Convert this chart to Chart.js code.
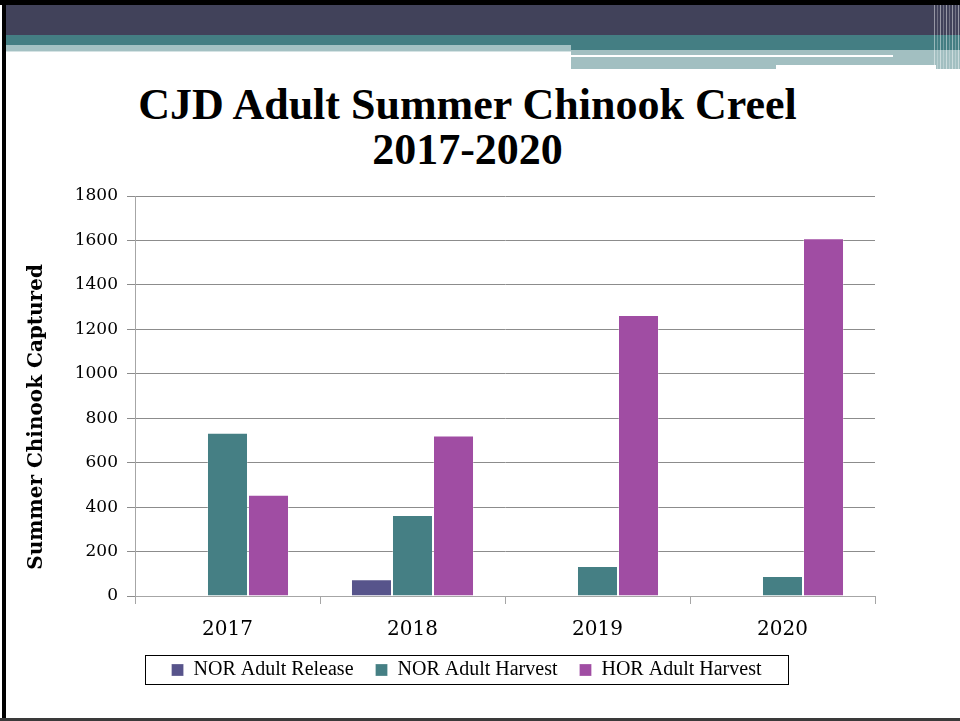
<!DOCTYPE html>
<html>
<head>
<meta charset="utf-8">
<script src="https://cdn.jsdelivr.net/npm/chart.js@4.4.1/dist/chart.umd.min.js"></script>
<style>
  html, body { margin: 0; padding: 0; background: #fff; }
  body { width: 960px; height: 721px; position: relative; overflow: hidden; }
  .b { position: absolute; }
  #title {
    position: absolute; left: 0; top: 82px; width: 935px;
    text-align: center; color: #000;
    font: bold 44px 'Liberation Serif', serif; line-height: 45px;
  }
  #wrap { position: absolute; left: 0; top: 170px; width: 960px; height: 545px; }
</style>
</head>
<body>
<!-- slide frame and header bands -->
<div class="b" style="left:0;top:0;width:960px;height:5px;background:#000"></div>
<div class="b" style="left:2px;top:0;width:4px;height:721px;background:#000"></div>
<div class="b" style="left:0;top:718px;width:960px;height:3px;background:#3a3a3a"></div>
<div class="b" style="left:6px;top:5px;width:954px;height:30px;background:#41425a"></div>
<div class="b" style="left:6px;top:35px;width:954px;height:10px;background:#447e83"></div>
<div class="b" style="left:6px;top:45px;width:565px;height:6px;background:#a4c1c3"></div>
<div class="b" style="left:6px;top:51px;width:565px;height:1px;background:#d5e3e4"></div>
<div class="b" style="left:571px;top:45px;width:389px;height:5px;background:#447e83"></div>
<div class="b" style="left:571px;top:50px;width:389px;height:19px;background:#a2bfc1"></div>
<div class="b" style="left:571px;top:55px;width:322px;height:2px;background:#fff"></div>
<div class="b" style="left:776px;top:65px;width:160px;height:4px;background:#fff"></div>
<div class="b" style="left:934px;top:5px;width:26px;height:64px;background:repeating-linear-gradient(90deg, rgba(255,255,255,0.45) 0 1px, rgba(255,255,255,0) 1px 3px, rgba(255,255,255,0.25) 3px 4px, rgba(255,255,255,0) 4px 6px)"></div>

<div id="title">CJD Adult Summer Chinook Creel<br>2017-2020</div>

<div id="wrap"><canvas id="chart"></canvas></div>

<script>
const years = ['2017', '2018', '2019', '2020'];
const seriesNames = ['NOR Adult Release', 'NOR Adult Harvest', 'HOR Adult Harvest'];
const norRelease = [0, 75, 0, 0];
const norHarvest = [735, 364, 135, 90];
const horHarvest = [456, 722, 1265, 1610];
const seriesColors = ['#57548b', '#457f84', '#a04da3'];
const yMax = 1800;
const yStep = 200;

// draws the thin black frame round the legend items
const legendFrame = {
  id: 'legendFrame',
  afterDraw(chart) {
    const boxes = chart.legend && chart.legend.legendHitBoxes;
    if (!boxes || !boxes.length) return;
    const first = boxes[0], last = boxes[boxes.length - 1];
    const x0 = Math.round(first.left - 27);
    const x1 = Math.round(last.left + last.width + 27);
    const cy = first.top + first.height / 2;
    const ctx = chart.ctx;
    ctx.save();
    ctx.strokeStyle = '#000';
    ctx.lineWidth = 1;
    ctx.strokeRect(x0 + 0.5, Math.round(cy - 15) + 0.5, x1 - x0, 29);
    ctx.restore();
  }
};

const ctx = document.getElementById('chart').getContext('2d');
new Chart(ctx, {
  type: 'bar',
  plugins: [legendFrame],
  data: {
    labels: years,
    datasets: [norRelease, norHarvest, horHarvest].map((values, i) => ({
      label: seriesNames[i],
      data: values,
      backgroundColor: seriesColors[i],
      borderColor: 'rgba(255,255,255,0.25)',
      borderWidth: 1,
      categoryPercentage: 0.665,
      barPercentage: 1
    }))
  },
  options: {
    responsive: true,
    maintainAspectRatio: false,
    animation: false,
    layout: { padding: { left: 58, right: 85, top: 26, bottom: 25 } },
    plugins: {
      title: { display: false },
      tooltip: { enabled: false },
      legend: {
        position: 'bottom',
        labels: {
          boxWidth: 12,
          boxHeight: 12,
          padding: 22,
          color: '#000',
          font: { family: "'Liberation Serif', serif", size: 20 }
        }
      }
    },
    scales: {
      x: {
        afterFit: (scale) => { scale.height = 42; },
        grid: { display: true, drawOnChartArea: false, drawTicks: true, tickLength: 8, color: '#a6a6a6', offset: true },
        border: { color: '#a6a6a6' },
        ticks: { color: '#000', padding: 14, font: { family: "'DejaVu Serif', serif", size: 20 } }
      },
      y: {
        min: 0,
        max: yMax,
        afterFit: (scale) => { scale.width = 77; },
        grid: { color: '#8c8c8c', tickLength: 8 },
        border: { color: '#a6a6a6' },
        ticks: {
          stepSize: yStep, color: '#000', padding: 9,
          callback: (v) => String(v),
          font: { family: "'DejaVu Serif', serif", size: 17 }
        },
        title: {
          display: true,
          // trailing spaces nudge the rotated label down, as in the original
          text: 'Summer Chinook Captured      ',
          color: '#000',
          padding: { top: -33, bottom: 0 },
          font: { family: "'DejaVu Serif', serif", size: 20, weight: 'bold' }
        }
      }
    }
  }
});
</script>
</body>
</html>
